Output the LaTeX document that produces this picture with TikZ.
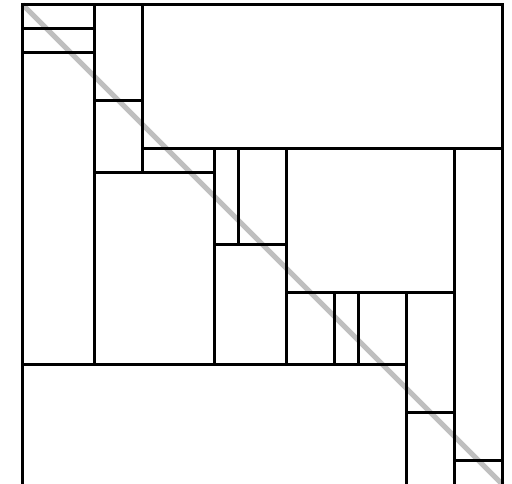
\documentclass[tikz,border=0pt]{standalone}
\usetikzlibrary{calc}

\begin{document}
\begin{tikzpicture}[x=24pt,y=-24pt,line width=3pt]
            \useasboundingbox (-0.9375,-0.1875) rectangle (20.396,19.9375);

            % diagonal
            \draw[gray!50, line width=5pt] (0,0) -- (20,20);

            % outer frame
            \draw (0,20) -- (0,0) -- (20,0) -- (20,20);

            \foreach \y/\a/\b in {1/0/3, 2/0/3, 4/3/5, 6/5/20, 7/3/8,
                                  10/8/11, 12/11/18, 15/0/16, 17/16/18, 19/18/20}
                {\draw (\a,\y) -- (\b,\y);}
            \foreach \x/\a/\b in {3/0/15, 5/0/7, 8/6/15, 9/6/10, 11/6/15,
                                  13/12/15, 14/12/15, 16/12/20, 18/6/20}
                {\draw (\x,\a) -- (\x,\b);}
        \end{tikzpicture}
\end{document}
